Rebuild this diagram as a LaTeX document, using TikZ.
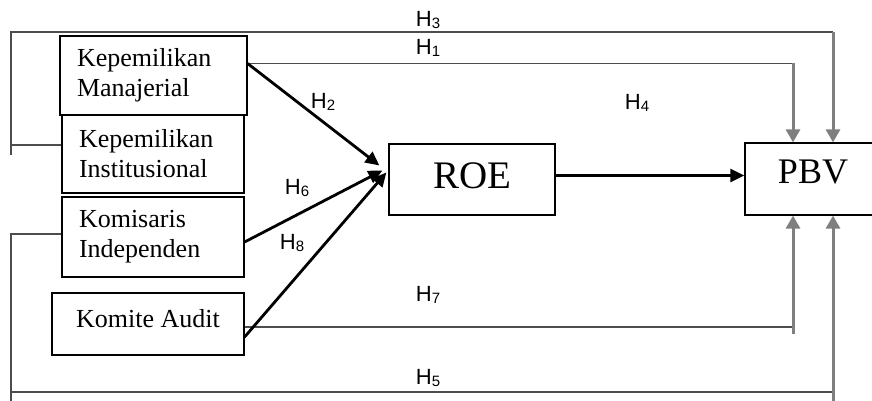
\documentclass[tikz,border=0pt]{standalone}
\usepackage{fontspec}
\setmainfont{Liberation Serif}
\newfontfamily\hfont{Liberation Sans}
\usetikzlibrary{arrows.meta,positioning,calc}
\definecolor{LinkGrey}{HTML}{7F7F7F}
\definecolor{BusGrey}{HTML}{4D4D4D}
\newcommand{\hname}[1]{H\raisebox{-2pt}{\fontsize{15}{15}\selectfont #1}}
\tikzset{
    varbox/.style={
        draw=black, line width=1.2pt, align=left,
        font=\fontsize{26}{30}\selectfont,
        inner xsep=17pt, inner ysep=0pt
    },
    outbox/.style={
        draw=black, line width=1.2pt, inner sep=0pt
    },
    hlab/.style={
        font=\hfont\fontsize{22}{24}\selectfont, inner sep=0pt
    },
    busline/.style={
        draw=BusGrey, line width=1.4pt
    },
    greyarrow/.style={
        draw=LinkGrey, line width=3pt,
        -{Triangle[width=14pt,length=13pt]}
    },
    blackarrow/.style={
        draw=black, line width=2.8pt,
        -{Triangle[width=13pt,length=14pt]}
    },
}
\begin{document}
\begin{tikzpicture}[x=1pt,y=-1pt]
    \clip (0,0) rectangle (872,401);

    % Independent variables
    \node[varbox, text width=153pt, minimum height=79pt] (mgr) at (153.5,75.5) {Kepemilikan\\Manajerial};
    \node[varbox, text width=148pt, minimum height=78pt] (inst) at (153,154) {Kepemilikan\\Institusional};
    \node[varbox, text width=148pt, minimum height=80pt] (kom) at (153,237) {Komisaris\\Independen};
    \node[varbox, minimum width=192pt, minimum height=62pt, text depth=12pt] (audit) at (148,324) {Komite Audit};

    % Intervening and dependent variables
    \node[outbox, minimum width=166pt, minimum height=71pt, font=\fontsize{39}{42}\selectfont, text depth=7pt] (roe) at (472,179.5) {ROE};
    \node[outbox, minimum width=136pt, minimum height=72pt, font=\fontsize{36}{38}\selectfont, text depth=14pt] (pbv) at (813,179) {PBV};

    % Corner points of the direct paths
    \coordinate (h1c) at (793,63.5);
    \coordinate (h3l) at (11,32);
    \coordinate (h3c) at (833,32);
    \coordinate (h3b) at (11,155);
    \coordinate (h7c) at (793,327);
    \coordinate (h5l) at (11,392);
    \coordinate (h5c) at (833,392);
    \coordinate (h5b) at (833,405);
    \coordinate (h3in) at ([yshift=9pt]inst.west);
    \coordinate (roeout) at ([yshift=4pt]roe.east);

    % H1 and H3 from above
    \draw[busline] ([yshift=12pt]mgr.east) -- (h1c);
    \draw[greyarrow] (h1c) -- (h1c |- pbv.north);
    \draw[busline] (h3in) -- (h3in -| h3l);
    \draw[busline] (h3b) -- (h3l) -- (h3c);
    \draw[greyarrow] (h3c) -- (h3c |- pbv.north);

    % H7 and H5 from below
    \draw[busline] ([yshift=-3pt]audit.east) -- (h7c);
    \draw[greyarrow] ([yshift=-7pt]h7c) -- (h7c |- pbv.south);
    \draw[busline] ([yshift=3pt]kom.west) -| ([yshift=-9pt]h5l);
    \draw[busline] (h5l) -- (h5c);
    \draw[greyarrow] (h5b) -- (h5b |- pbv.south);

    % Paths into ROE
    \draw[blackarrow] ([yshift=12pt]mgr.east) -- ([xshift=-9pt,yshift=14pt]roe.west);
    \draw[blackarrow] ([yshift=-5pt]kom.east) -- ([xshift=-6pt,yshift=9pt]roe.west);
    \draw[blackarrow] ([yshift=-13pt]audit.east) -- ([xshift=-2pt,yshift=7pt]roe.west);
    \draw[blackarrow] (roeout) -- (roeout -| pbv.west);

    % Hypothesis labels
    \node[hlab] (lh3) at (428,20) {\hname{3}};
    \node[hlab] (lh1) at (428,48) {\hname{1}};
    \node[hlab] (lh2) at (323,102) {\hname{2}};
    \node[hlab] (lh4) at (637,103) {\hname{4}};
    \node[hlab] (lh6) at (297,188) {\hname{6}};
    \node[hlab] (lh8) at (292,243) {\hname{8}};
    \node[hlab] (lh7) at (428,295) {\hname{7}};
    \node[hlab] (lh5) at (428,378) {\hname{5}};
\end{tikzpicture}
\end{document}
